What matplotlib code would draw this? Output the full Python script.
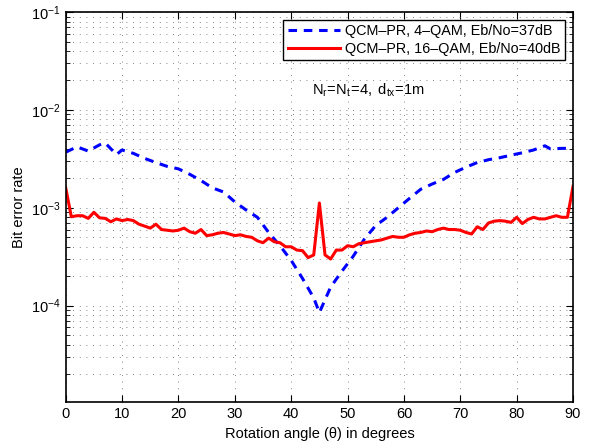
import matplotlib
matplotlib.use("Agg")
import matplotlib.pyplot as plt
from matplotlib.ticker import LogLocator, NullFormatter, MultipleLocator

plt.rcParams['font.family'] = ['Liberation Sans', 'DejaVu Sans']
plt.rcParams['mathtext.fontset'] = 'custom'
plt.rcParams['mathtext.rm'] = 'Liberation Sans'
plt.rcParams['mathtext.it'] = 'Liberation Sans'

# QCM-PR, 4-QAM, Eb/No=37dB
theta_4qam = [0, 2, 4, 6, 7, 9, 10, 12, 14, 16, 18, 20, 22, 24, 26, 28, 30, 32,
              34, 36, 38, 40, 42, 44, 45, 47, 49, 51, 53, 55, 57, 59, 61, 63,
              65, 67, 69, 71, 73, 75, 77, 79, 81, 83, 85, 86, 88, 90]
ber_4qam = [3.7e-3, 4.2e-3, 3.8e-3, 4.4e-3, 4.6e-3, 3.5e-3, 3.9e-3, 3.6e-3,
            3.2e-3, 2.9e-3, 2.65e-3, 2.5e-3, 2.2e-3, 1.9e-3, 1.6e-3, 1.45e-3,
            1.15e-3, 9.5e-4, 8.0e-4, 5.6e-4, 4.1e-4, 2.9e-4, 1.9e-4, 1.2e-4,
            8.5e-5, 1.55e-4, 2.25e-4, 3.2e-4, 4.8e-4, 6.6e-4, 8.0e-4, 1.0e-3,
            1.25e-3, 1.55e-3, 1.75e-3, 1.95e-3, 2.3e-3, 2.6e-3, 2.9e-3, 3.1e-3,
            3.25e-3, 3.45e-3, 3.65e-3, 3.9e-3, 4.3e-3, 4.0e-3, 4.05e-3, 4.05e-3]

# QCM-PR, 16-QAM, Eb/No=40dB (one point per degree, 0..90)
theta_16qam = list(range(91))
ber_16qam = [1.6e-3, 8.1e-4, 8.3e-4, 8.3e-4, 7.8e-4, 9.0e-4, 7.9e-4, 7.8e-4, 7.2e-4, 7.7e-4,
             7.4e-4, 7.6e-4, 7.4e-4, 6.8e-4, 6.5e-4, 6.2e-4, 6.8e-4, 6.0e-4, 5.9e-4, 5.8e-4,
             5.9e-4, 6.2e-4, 5.7e-4, 5.5e-4, 6.0e-4, 5.2e-4, 5.3e-4, 5.5e-4, 5.6e-4, 5.4e-4,
             5.2e-4, 5.3e-4, 5.1e-4, 5.0e-4, 4.6e-4, 4.4e-4, 4.9e-4, 4.5e-4, 4.4e-4, 4.0e-4,
             4.0e-4, 3.7e-4, 3.65e-4, 3.1e-4, 3.3e-4, 1.12e-3, 3.3e-4, 3.0e-4, 3.7e-4, 3.7e-4,
             4.1e-4, 4.0e-4, 4.3e-4, 4.4e-4, 4.5e-4, 4.6e-4, 4.7e-4, 4.9e-4, 5.1e-4, 5.0e-4,
             5.0e-4, 5.3e-4, 5.5e-4, 5.6e-4, 5.8e-4, 5.7e-4, 6.0e-4, 6.2e-4, 6.0e-4, 6.0e-4,
             5.9e-4, 5.6e-4, 5.4e-4, 6.4e-4, 6.0e-4, 7.0e-4, 7.3e-4, 7.4e-4, 7.3e-4, 7.1e-4,
             8.0e-4, 6.9e-4, 7.6e-4, 8.0e-4, 7.7e-4, 7.7e-4, 8.0e-4, 8.3e-4, 8.0e-4, 8.0e-4,
             1.66e-3]

labels = ['QCM–PR, 4–QAM, Eb/No=37dB', 'QCM–PR, 16–QAM, Eb/No=40dB']

fig = plt.figure(figsize=(5.92, 4.47), dpi=100)
ax = fig.add_axes([0.111, 0.100, 0.857, 0.873])

ax.semilogy(theta_4qam, ber_4qam, color='blue', linestyle='--', linewidth=2.2,
            dashes=(2.8, 2.2), label=labels[0])
ax.semilogy(theta_16qam, ber_16qam, color='red', linestyle='-', linewidth=2.2,
            label=labels[1])

ax.set_xlim(0, 90)
ax.set_ylim(1.03e-5, 1e-1)
ax.xaxis.set_major_locator(MultipleLocator(10))
ax.yaxis.set_major_locator(LogLocator(base=10, numticks=10))
ax.yaxis.set_minor_locator(LogLocator(base=10, subs=range(2, 10), numticks=20))
ax.yaxis.set_minor_formatter(NullFormatter())

grid_style = dict(linestyle=(0, (1, 7)), color='0.35', linewidth=0.6)
ax.grid(True, which='major', **grid_style)
ax.grid(True, which='minor', axis='y', **grid_style)

ax.tick_params(which='both', direction='in', top=True, right=True, labelsize=10.5)
ax.tick_params(which='major', length=5)
ax.tick_params(which='minor', length=3)
for s in ax.spines.values():
    s.set_linewidth(1.2)

ax.set_xlabel('Rotation angle (θ) in degrees', fontsize=10.5)
ax.set_ylabel('Bit error rate', fontsize=10.5)

ax.text(43.7, 1.45e-2, r'$\mathregular{N_r\!=\!N_t\!=\!4,\ d_{tx}\!=\!1m}$', fontsize=10.5)

leg = ax.legend(loc='upper right', fontsize=10.4, fancybox=False, framealpha=1,
                edgecolor='black', handlelength=3.6, borderaxespad=0.55,
                borderpad=0.3, labelspacing=0.25, handletextpad=0.4)
leg.get_frame().set_linewidth(1.0)

fig.savefig('out.png', dpi=100)
